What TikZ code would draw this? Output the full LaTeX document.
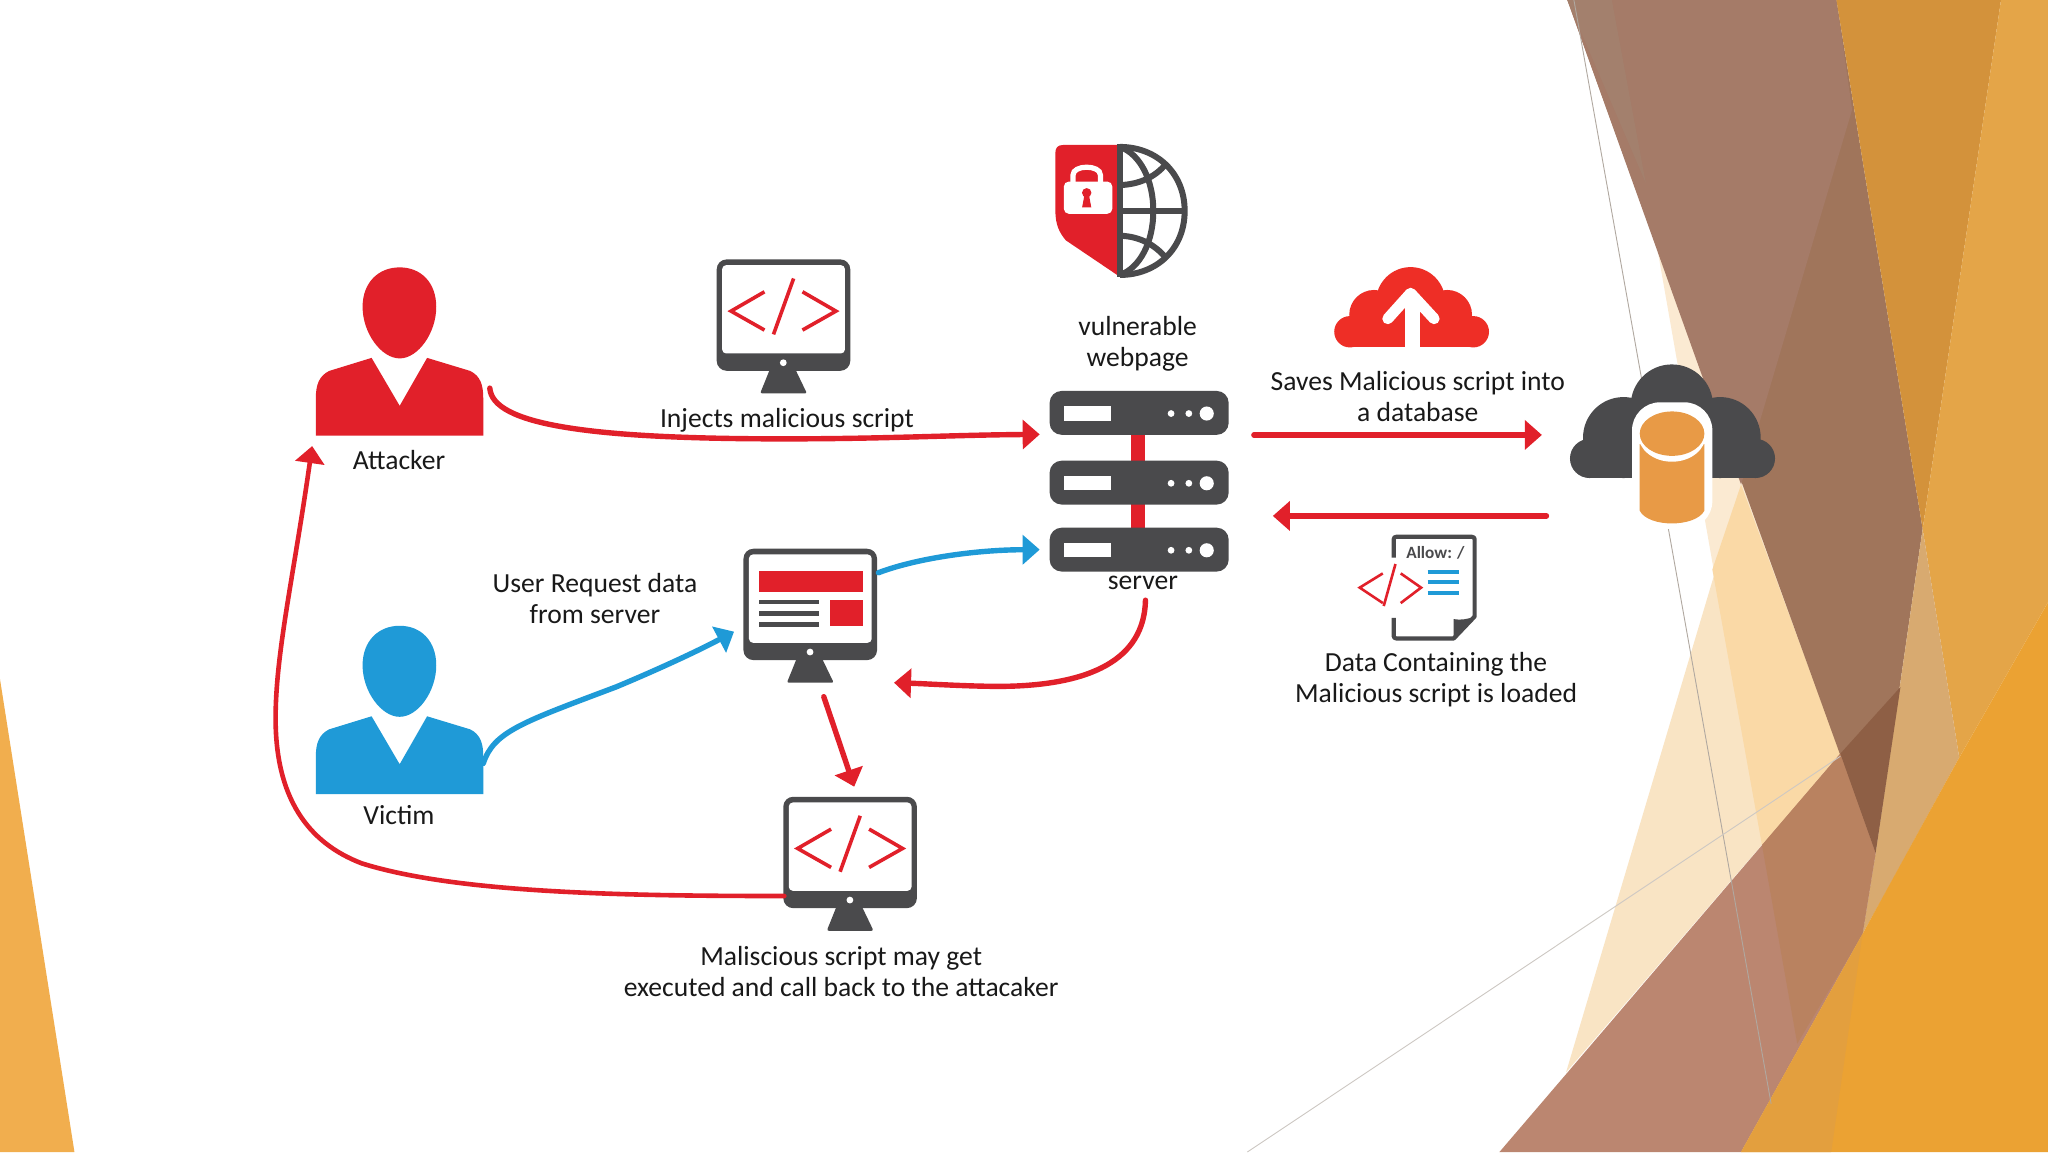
\documentclass[tikz,border=0pt]{standalone}
\usepackage{fontspec}
\setmainfont{Carlito}
\usetikzlibrary{arrows.meta}
\definecolor{rd}{HTML}{E1202A}
\definecolor{blu}{HTML}{1F9AD7}
\definecolor{drk}{HTML}{4A4A4C}
\definecolor{cloudred}{HTML}{EE2E26}
\definecolor{cyl}{HTML}{E89A46}
\def\uu{0.653061pt}
\tikzset{
  iconbox/.style={inner sep=0pt,outer sep=0pt},
  lab/.style={inner sep=0pt,align=center,font=\fontsize{13.8}{15.7}\selectfont,text=black!90},
  redline/.style={draw=rd,line width=2.7pt,line cap=round,-{Triangle[length=8.5pt,width=14.4pt]}},
  blueline/.style={draw=blu,line width=2.7pt,line cap=round,-{Triangle[length=8.5pt,width=14.4pt]}},
  thinl/.style={line width=0.45pt},
  glyph/.style={draw=rd,line width=1.8pt,line join=miter},
}
\newcommand{\personicon}[2]{%
 \begin{scope}[shift={(0,#1)}]
  \fill[#2] (306,204.7) .. controls (290,204.7) and (277.6,216) .. (277.6,235) .. controls (277.6,255) and (292,274.4) .. (306,274.4) .. controls (320,274.4) and (334,255) .. (334,235) .. controls (334,216) and (322,204.7) .. (306,204.7) -- cycle;
  \fill[#2] (241.8,333.6) -- (241.8,305) .. controls (241.8,295) and (244,288) .. (252,284) -- (284.5,274) -- (306,310.7) -- (327,274) -- (360,284) .. controls (368,288) and (370,295) .. (370,305) -- (370,333.6) -- cycle;
 \end{scope}}
\newcommand{\monitorbase}[2]{%
 \begin{scope}[shift={(#1,#2)}]
  \fill[drk,rounded corners=5pt] (548.7,198.6) rectangle (651,283.9);
  \fill[drk,rounded corners=1pt] (590.5,280) -- (607.6,280) -- (617.8,301.2) -- (582,301.2) -- cycle;
  \fill[white,rounded corners=2pt] (552.9,203) rectangle (646.9,270.6);
  \fill[white] (599.7,277.7) circle[radius=2.6];
 \end{scope}}
\newcommand{\codeglyph}[2]{%
 \begin{scope}[shift={(#1,#2)}]
  \draw[glyph] (585.3,223.4) -- (559.7,238.2) -- (585.3,252.7);
  \draw[glyph] (607.6,213.2) -- (592.2,256);
  \draw[glyph] (614.4,223.4) -- (640,238.2) -- (614.4,252.7);
 \end{scope}}
\newcommand{\slab}[1]{%
 \begin{scope}[shift={(0,#1)}]
  \fill[drk,rounded corners=6pt] (803.6,299.3) rectangle (940.7,332.9);
  \fill[white] (814.5,311) rectangle (850.5,322);
  \fill[white] (896.6,316.6) circle[radius=2.6];
  \fill[white] (910.2,316.6) circle[radius=2.6];
  \fill[white] (923.9,316.6) circle[radius=5.4];
 \end{scope}}
\definecolor{bgA}{RGB}{241,174,78}
\definecolor{bgB}{RGB}{251,234,210}
\definecolor{bgC}{RGB}{249,228,196}
\definecolor{bgD}{RGB}{250,217,166}
\definecolor{bgE}{RGB}{160,117,91}
\definecolor{bgF}{RGB}{165,123,104}
\definecolor{bgG}{RGB}{163,128,109}
\definecolor{bgH}{RGB}{211,146,59}
\definecolor{bgI}{RGB}{228,165,72}
\definecolor{bgJ}{RGB}{216,170,112}
\definecolor{bgK}{RGB}{187,134,112}
\definecolor{bgL}{RGB}{185,130,96}
\definecolor{bgM}{RGB}{142,95,69}
\definecolor{bgN}{RGB}{235,162,51}
\definecolor{bgO}{RGB}{227,159,62}
\definecolor{lineA}{RGB}{176,168,160}
\definecolor{lineB}{RGB}{205,200,195}
\begin{document}
\begin{tikzpicture}[x=\uu,y=-\uu]
\useasboundingbox (0,0) rectangle (1568,882);
\begin{scope}
\clip (0,0) rectangle (1568,882);
\fill[white] (0,0) rectangle (1568,882);
% background polygons
\fill[bgA] (0,520) -- (57,882) -- (0,882) -- cycle;
\fill[bgB] (1269,191) -- (1409,577) -- (1349,647) -- cycle;
\fill[bgC] (1333,371) -- (1199,821) -- (1409,577) -- cycle;
\fill[bgD] (1333,371) -- (1409,577) -- (1349,647) -- (1311,436) -- cycle;
\fill[bgE] (1200,0) -- (1406,0) -- (1472,405) -- (1436,653) -- cycle;
\fill[bgF] (1200,0) -- (1406,0) -- (1418,84) -- (1333,371) -- cycle;
\fill[bgG] (1200,0) -- (1234,0) -- (1260,140) -- cycle;
\fill[bgH] (1406,0) -- (1532,0) -- (1472,405) -- cycle;
\fill[bgI] (1532,0) -- (1568,0) -- (1568,461) -- (1500,580) -- (1472,405) -- cycle;
\fill[bgJ] (1472,405) -- (1500,580) -- (1445,681) -- (1426,715) -- (1436,653) -- cycle;
\fill[bgK] (1148,882) -- (1409,577) -- (1436,653) -- (1426,715) -- (1333,882) -- cycle;
\fill[bgL] (1349,647) -- (1409,577) -- (1436,653) -- (1426,715) -- (1376,799) -- cycle;
\fill[bgM] (1409,577) -- (1455,526) -- (1436,653) -- cycle;
\fill[bgN] (1333,882) -- (1426,715) -- (1500,580) -- (1568,461) -- (1568,882) -- cycle;
\fill[bgO] (1333,882) -- (1426,715) -- (1402,882) -- cycle;
% thin lines
\draw[thinl,lineA] (1205,0) -- (1356,845);
\draw[thinl,lineB] (955,882) -- (1409,579);
\end{scope}

% icon bounding nodes
\node[iconbox,minimum width=128.2*\uu,minimum height=128.9*\uu] (attacker) at (305.9,269.15) {};
\node[iconbox,minimum width=128.2*\uu,minimum height=128.9*\uu] (victim) at (305.9,543.55) {};
\node[iconbox,minimum width=102.3*\uu,minimum height=102.6*\uu] (mona) at (599.85,249.9) {};
\node[iconbox,minimum width=102.3*\uu,minimum height=102.6*\uu] (monb) at (620.35,471.4) {};
\node[iconbox,minimum width=102.3*\uu,minimum height=102.6*\uu] (monc) at (650.85,661.3) {};
\node[iconbox,minimum width=137.1*\uu,minimum height=138.3*\uu] (server) at (872.15,368.45) {};
\node[iconbox,minimum width=156.7*\uu,minimum height=122*\uu] (dbcloud) at (1280.35,340.4) {};

% people
\personicon{0}{rd}
\personicon{274.4}{blu}

% monitors
\monitorbase{0}{0}
\codeglyph{0}{0}
\monitorbase{20.5}{221.5}
\fill[rd] (580.9,437) rectangle (660.5,453.3);
\fill[drk] (581,459) rectangle (627,462.8);
\fill[drk] (581,467.6) rectangle (627,471.4);
\fill[drk] (581,476) rectangle (627,480);
\fill[rd] (635.6,459) rectangle (660.5,479.4);
\monitorbase{51}{411.4}
\codeglyph{51}{411.4}

% server
\fill[rd] (865.7,330) rectangle (876.6,406);
\slab{0}
\slab{53.4}
\slab{104.7}

% shield globe
\fill[rd] (857.5,111) -- (814,111) .. controls (810,111) and (808,113) .. (808,117) -- (808,161) .. controls (808,172) and (811,178) .. (816,184) -- (857.5,212) -- cycle;
\draw[drk,line width=3pt] (857.5,112.5) .. controls (885,112.5) and (907,132) .. (907,161.5) .. controls (907,191) and (885,210.5) .. (857.5,210.5);
\draw[drk,line width=3pt] (857.5,112.5) .. controls (873,118) and (883,138) .. (883,161.5) .. controls (883,185) and (873,205) .. (857.5,210.5);
\draw[drk,line width=3pt] (857.5,110) -- (857.5,212);
\draw[drk,line width=3pt] (857.5,161.6) -- (907,161.6);
\draw[drk,line width=3pt] (858,141.7) .. controls (872,141) and (884,136) .. (892.6,125.6);
\draw[drk,line width=3pt] (858,180.5) .. controls (872,181) and (884,187) .. (892.6,197.4);
\draw[white,line width=2.6pt] (821.5,142) -- (821.5,134) .. controls (821.5,126) and (842.5,126) .. (842.5,134) -- (842.5,142);
\fill[white,rounded corners=2.5pt] (814.5,139) rectangle (851.6,163.7);
\fill[rd] (832,147.6) circle[radius=3.6];
\fill[rd] (830.5,148) -- (833.5,148) -- (835.5,158.7) -- (828.5,158.7) -- cycle;

% upload cloud
\fill[cloudred] (1080,231) circle[radius=26.5];
\fill[cloudred] (1052,241) circle[radius=19];
\fill[cloudred] (1108,241) circle[radius=19];
\fill[cloudred] (1033.5,254) circle[radius=12];
\fill[cloudred] (1128,254) circle[radius=12];
\fill[cloudred] (1033.5,245) rectangle (1128,266);
\fill[white] (1075.5,228) rectangle (1086.8,266.5);
\draw[white,line width=5.5pt,line cap=round,line join=round] (1062.5,244) -- (1080,224.5) -- (1098,244);

% db cloud
\fill[drk] (1280,310.5) circle[radius=31.5];
\fill[drk] (1243,335) circle[radius=31];
\fill[drk] (1317,335) circle[radius=31];
\fill[drk] (1217,351) circle[radius=15];
\fill[drk] (1344,351) circle[radius=15];
\fill[drk] (1217,340) rectangle (1344,366);
\fill[white,rounded corners=14pt] (1249.5,308) rectangle (1311,405);
\fill[cyl] (1255.4,340) -- (1255.4,391) .. controls (1262,404) and (1298,404) .. (1304.9,391) -- (1304.9,340) -- cycle;
\fill[white] (1280.15,332.5) ellipse[x radius=26,y radius=21];
\fill[white] (1255.4,325) rectangle (1304.9,339);
\fill[cyl] (1280.15,332) ellipse[x radius=24.75,y radius=17];

% document
\draw[drk,line width=2.1pt,line join=round] (1067,427) -- (1067,413) .. controls (1067,411.5) and (1068,411) .. (1069,411) -- (1127,411) .. controls (1128.5,411) and (1129,412) .. (1129,413) -- (1129,472) -- (1113,488.8) -- (1069,488.8) .. controls (1068,488.8) and (1067,488) .. (1067,487) -- (1067,473);
\fill[drk] (1129,472) -- (1113,488.8) -- (1113,474) .. controls (1118,475) and (1124,474) .. (1129,472) -- cycle;
\node[iconbox,font=\bfseries\fontsize{8.6}{10}\selectfont,text=drk] (allow) at (1099,423) {Allow: /};
\draw[rd,line width=1.3pt] (1058.7,439) -- (1041,449.9) -- (1058.7,461.7);
\draw[rd,line width=1.3pt] (1068.4,431.8) -- (1059.4,464);
\draw[rd,line width=1.3pt] (1072.4,439) -- (1088,449.9) -- (1072.4,461.7);
\draw[blu,line width=2pt] (1093,437.7) -- (1117,437.7);
\draw[blu,line width=2pt] (1093,445.5) -- (1117,445.5);
\draw[blu,line width=2pt] (1093,453.8) -- (1117,453.8);

% labels
\node[lab] (tAttacker) at (305.5,352.3) {Attacker};
\node[lab] (tVictim) at (305.5,624) {Victim};
\node[lab] (tInjects) at (602.5,322) {Injects malicious script};
\node[lab] (tVuln) at (871,263) {vulnerable\\webpage};
\node[lab] (tServer) at (875,446) {server};
\node[lab] (tSaves) at (1085.5,303.5) {Saves Malicious script into\\a database};
\node[lab] (tUser) at (455.5,458) {User Request data\\from server};
\node[lab] (tData) at (1099.5,520.5) {Data Containing the\\Malicious script is loaded};
\node[lab] (tMal) at (644,744) {Maliscious script may get\\executed and call back to the attacaker};

% connectors
\coordinate (attOut) at ([shift={(5,28)}]attacker.east);
\coordinate (srvIn) at ([shift={(-7.6,-35.85)}]server.west);
\coordinate (srvOut) at ([shift={(19.3,-35.45)}]server.east);
\coordinate (srvB) at ([shift={(4.85,21.9)}]server.south);
\coordinate (srvBlue) at ([shift={(-7.6,52.35)}]server.west);
\coordinate (backIn) at ([shift={(33.8,26.55)}]server.east);
\coordinate (dbIn) at ([shift={(-21.5,-7.4)}]dbcloud.west);
\coordinate (dbOut) at ([shift={(-18,54.6)}]dbcloud.west);
\coordinate (monIn) at ([shift={(13,51.3)}]monb.east);
\coordinate (monOut) at ([shift={(10.35,10.7)}]monb.south);
\coordinate (monbIn) at ([shift={(-7.2,12.2)}]monb.west);
\coordinate (monbOut) at ([shift={(1,-32.9)}]monb.east);
\coordinate (moncIn) at ([shift={(3.15,-7.7)}]monc.north);
\coordinate (moncOut) at ([shift={(0.8,24.7)}]monc.west);
\coordinate (attIn) at ([shift={(-2.8,7.9)}]attacker.south west);
\coordinate (vicOut) at ([shift={(0,40.95)}]victim.east);
\draw[redline] (attOut) .. controls (377,325) and (450,336) .. (600,336) .. controls (680,336) and (730,333) .. (srvIn);
\draw[redline] (srvOut) -- (dbIn);
\draw[redline] (dbOut) -- (backIn);
\draw[redline] (srvB) .. controls (876,505) and (835,525) .. (766,525.5) .. controls (740,525.5) and (710,523.5) .. (monIn);
\draw[redline] (monOut) -- (moncIn);
\draw[redline,line width=2.3pt] (moncOut) .. controls (480,686) and (350,684) .. (277,661) .. controls (235,645) and (211,610) .. (211,550) .. controls (211,500) and (225,440) .. (attIn);
\draw[blueline] (vicOut) .. controls (378,560) and (400,553) .. (472,525.8) .. controls (505,512) and (535,498) .. (monbIn);
\draw[blueline] (monbOut) .. controls (700,428) and (745,421) .. (srvBlue);
\end{tikzpicture}
\end{document}
